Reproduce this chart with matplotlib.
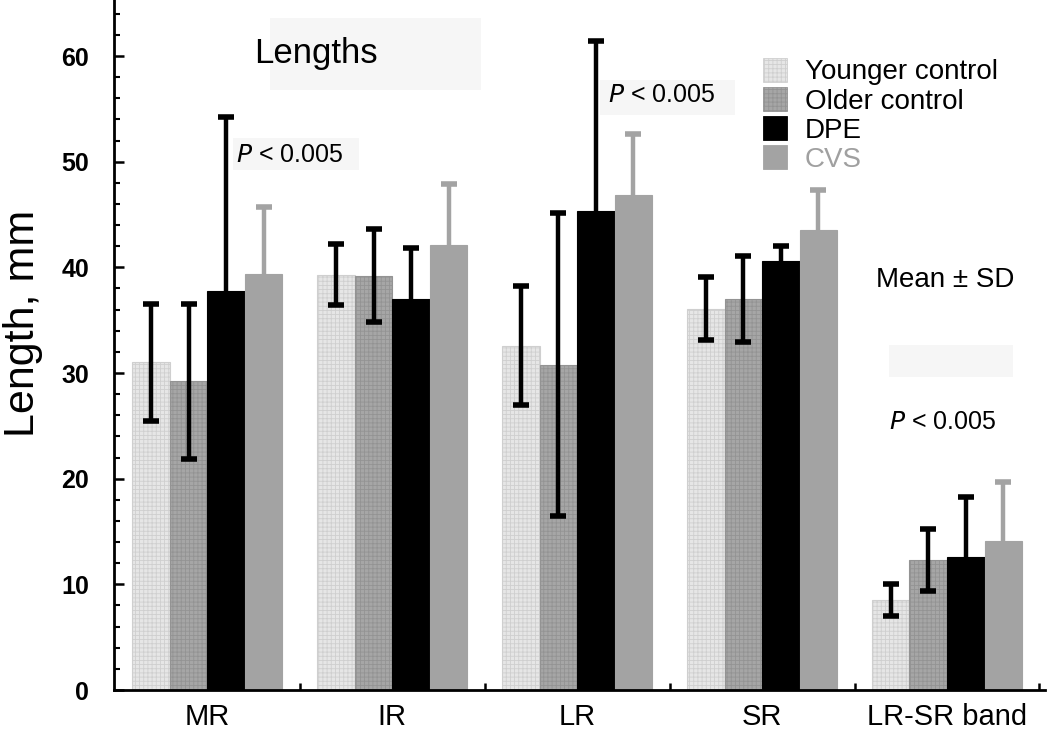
import matplotlib
matplotlib.use("Agg")
import matplotlib.pyplot as plt
import numpy as np
from matplotlib.patches import Rectangle, Patch
from matplotlib.ticker import MultipleLocator, FixedLocator

plt.rcParams['font.family'] = ['Liberation Sans', 'DejaVu Sans']
plt.rcParams['hatch.linewidth'] = 0.6

categories = ["MR", "IR", "LR", "SR", "LR-SR band"]
groups = ["Younger control", "Older control", "DPE", "CVS"]

younger_mean = [31.0, 39.3, 32.6, 36.1, 8.5]
younger_sd = [5.5, 2.9, 5.6, 3.0, 1.5]
older_mean = [29.2, 39.2, 30.8, 37.0, 12.3]
older_sd = [7.3, 4.4, 14.3, 4.1, 2.9]
dpe_mean = [37.8, 37.0, 45.3, 40.6, 12.6]
dpe_sd = [16.4, 4.8, 16.1, 1.4, 5.7]
cvs_mean = [39.4, 42.1, 46.8, 43.5, 14.1]
cvs_sd = [6.3, 5.8, 5.8, 3.8, 5.6]

means = [younger_mean, older_mean, dpe_mean, cvs_mean]
sds = [younger_sd, older_sd, dpe_sd, cvs_sd]
face = ["#e6e6e6", "#a6a6a6", "#000000", "#a3a3a3"]
hatchcol = ["#cfcfcf", "#939393", "#000000", "#a3a3a3"]
hatches = ["++++", "++++", None, None]
errcol = ["black", "black", "black", "#a3a3a3"]

fig = plt.figure(figsize=(10.5, 7.34), dpi=100)
ax = fig.add_axes([0.1086, 0.0599, 0.8866, 0.9401])

x = np.arange(len(categories))
w = 0.203
offsets = (np.arange(4) - 1.5) * w
for i in range(4):
    ax.bar(x + offsets[i], means[i], width=w, color=face[i], edgecolor=hatchcol[i],
           linewidth=0.8, hatch=hatches[i], zorder=2)
for i in range(4):
    ax.errorbar(x + offsets[i], means[i], yerr=sds[i], fmt='none', ecolor=errcol[i],
                elinewidth=3.2, capsize=6, capthick=4, zorder=3)

ax.set_xlim(-0.505, 4.53)
ax.set_ylim(0, 65.3)
for s in ['top', 'right']:
    ax.spines[s].set_visible(False)
ax.spines['left'].set_linewidth(2.0)
ax.spines['bottom'].set_linewidth(2.0)

ax.yaxis.set_major_locator(MultipleLocator(10))
ax.yaxis.set_minor_locator(MultipleLocator(2))
ax.tick_params(axis='y', which='major', direction='in', length=7, width=1.8,
               labelsize=18, pad=18)
ax.tick_params(axis='y', which='minor', direction='in', length=4, width=1.5)
for lab in ax.get_yticklabels():
    lab.set_fontweight('bold')

ax.set_xticks(x)
ax.set_xticklabels(categories)
ax.xaxis.set_minor_locator(FixedLocator(x + 0.5))
ax.tick_params(axis='x', which='major', length=0, labelsize=21, pad=9)
ax.tick_params(axis='x', which='minor', direction='in', length=5, width=1.8)

ax.set_ylabel("Length, mm", fontsize=31)
ax.yaxis.set_label_coords(-0.076, 0.532)

# annotation boxes and texts (axes fraction)
bg = "#f6f6f6"
def box(x0, x1, y0, y1):
    ax.add_patch(Rectangle((x0, y0), x1 - x0, y1 - y0, transform=ax.transAxes,
                           facecolor=bg, edgecolor='none', zorder=0.5))

box(0.168, 0.394, 0.870, 0.974)
ax.text(0.150, 0.922, "Lengths", transform=ax.transAxes, fontsize=25, va='center', ha='left')

box(0.128, 0.263, 0.754, 0.800)
ax.text(0.131, 0.776, r"$\it{P}$ < 0.005", transform=ax.transAxes, fontsize=18, va='center', ha='left')

box(0.522, 0.667, 0.833, 0.884)
ax.text(0.531, 0.862, r"$\it{P}$ < 0.005", transform=ax.transAxes, fontsize=18, va='center', ha='left')

ax.text(0.818, 0.594, "Mean ± SD", transform=ax.transAxes, fontsize=20, va='center', ha='left')

box(0.832, 0.966, 0.454, 0.500)
ax.text(0.832, 0.388, r"$\it{P}$ < 0.005", transform=ax.transAxes, fontsize=18, va='center', ha='left')

handles = [Patch(facecolor=face[i], edgecolor=hatchcol[i], hatch=hatches[i], linewidth=0.6)
           for i in range(4)]
leg = ax.legend(handles, groups, loc='upper left', bbox_to_anchor=(0.697, 0.916),
                frameon=False, fontsize=20, handlelength=0.86, handleheight=0.94,
                handletextpad=0.65, labelspacing=0.06, borderpad=0, borderaxespad=0)
leg.get_texts()[3].set_color("#a0a0a0")

fig.savefig("out.png", dpi=100)
